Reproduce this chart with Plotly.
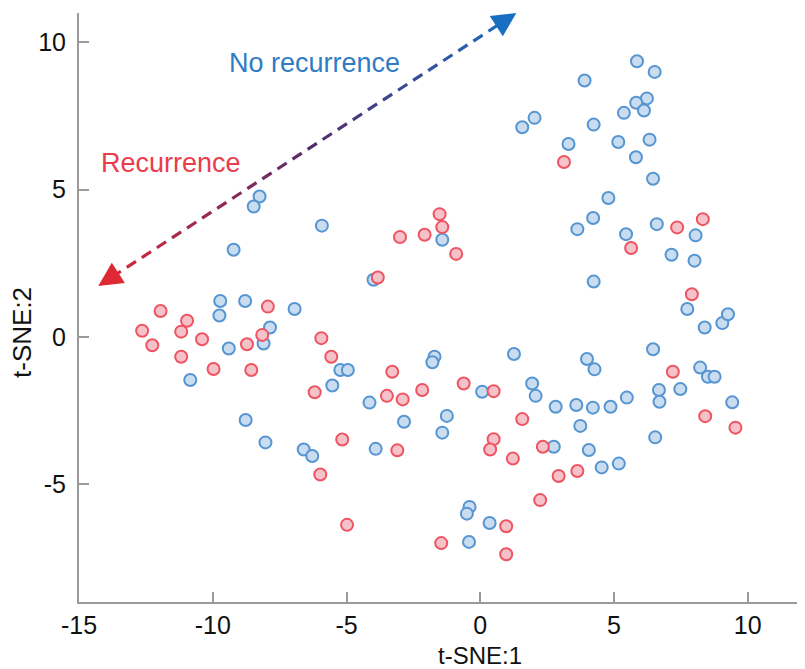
import plotly.graph_objects as go
import numpy as np

# ---- data ----
no_rec_x = [-8.25, -8.47, -5.92, -9.22, -3.99, -9.72, -8.79, -9.75, -6.94, -7.86, -8.10, -9.40,
            -10.84, -8.77, -8.03, -6.60, -6.28, -5.53, -5.23, -4.95, -4.14, -3.91, -2.85,
            5.86, 6.52, 3.90, 6.23, 5.83, 6.12, 5.37, 2.03, 1.57, 4.24, 3.30, 5.16, 6.33, 5.82,
            6.46, 4.79, 4.22, 3.63, 5.45, 6.60, 8.05, 7.15, 8.01, 4.24, -1.42, 7.74, 8.39, 9.05, 9.26,
            -1.71, -1.79, 1.26, 3.99, 4.27, 6.46, 8.22, 8.51, 8.76, 6.68, 6.70, 7.48, 9.42,
            0.07, 1.94, 2.07, 2.82, 3.59, 4.21, 4.87, 5.48, 3.74, -1.25, -1.42, 2.75, 4.06,
            4.54, 5.18, 6.54, -0.40, -0.50, 0.35, -0.42]
no_rec_y = [4.77, 4.43, 3.78, 2.96, 1.94, 1.22, 1.22, 0.73, 0.95, 0.32, -0.22, -0.39,
            -1.46, -2.82, -3.58, -3.82, -4.04, -1.65, -1.12, -1.12, -2.23, -3.80, -2.88,
            9.36, 9.00, 8.71, 8.10, 7.95, 7.69, 7.61, 7.44, 7.12, 7.21, 6.55, 6.62, 6.70, 6.10,
            5.37, 4.72, 4.04, 3.66, 3.49, 3.83, 3.45, 2.79, 2.59, 1.88, 3.30, 0.95, 0.32, 0.47, 0.77,
            -0.67, -0.86, -0.58, -0.75, -1.10, -0.42, -1.04, -1.35, -1.35, -1.80, -2.20, -1.77, -2.22,
            -1.86, -1.58, -2.00, -2.37, -2.31, -2.40, -2.37, -2.06, -3.02, -2.68, -3.25, -3.73, -3.84,
            -4.43, -4.30, -3.41, -5.77, -6.00, -6.32, -6.96]

rec_x = [-3.83, -3.00, -12.64, -12.26, -11.95, -11.18, -10.96, -11.18, -10.40, -9.97, -8.72,
         -8.56, -8.15, -7.94, -5.94, -5.57, -6.19, -5.98, -5.16, -4.98, -3.29, -3.49, -2.90, -3.10,
         3.13, -1.52, -1.42, -2.08, -0.90, 7.36, 8.32, 5.64, 7.91,
         -2.17, -0.62, 0.50, 1.57, 0.50, 0.37, 1.22, 2.34, 2.93, 3.63, 2.24, 7.20, 8.41, 9.54,
         0.97, -1.46, 0.97]
rec_y = [2.02, 3.39, 0.21, -0.28, 0.88, 0.18, 0.55, -0.67, -0.08, -1.09, -0.25,
         -1.12, 0.07, 1.03, -0.04, -0.67, -1.88, -4.67, -3.48, -6.38, -1.18, -2.00, -2.12, -3.85,
         5.94, 4.17, 3.73, 3.47, 2.82, 3.72, 4.00, 3.02, 1.45,
         -1.80, -1.58, -1.84, -2.79, -3.47, -3.82, -4.13, -3.73, -4.72, -4.55, -5.54, -1.18, -2.69, -3.08,
         -6.43, -7.00, -7.38]

x_ticks = [-15, -10, -5, 0, 5, 10]
x_tick_labels = ["-15", "-10", "-5", "0", "5", "10"]
y_ticks = [-5, 0, 5, 10]
y_tick_labels = ["-5", "0", "5", "10"]

arrow_start = (-14.28, 1.73)   # red tip (Recurrence)
arrow_end = (1.35, 11.0)       # blue tip (No recurrence)

# ---- layout constants (page body adds an 8px offset) ----
W, H = 797, 661
ML, MR, MT, MB = 71, 0, 5, 67
XR = [-15, 12.14]
YR = [-9, 11]
pw, ph = W - ML - MR, H - MT - MB
sx = pw / (XR[1] - XR[0])
sy = ph / (YR[1] - YR[0])

FONT = "Liberation Sans, Arial, sans-serif"
AX = "#9a9a9a"

fig = go.Figure()
fig.add_trace(go.Scatter(x=no_rec_x, y=no_rec_y, mode="markers", name="No recurrence",
                         marker=dict(size=12, color="#c9dcf0",
                                     line=dict(color="#5595d2", width=2))))
fig.add_trace(go.Scatter(x=rec_x, y=rec_y, mode="markers", name="Recurrence",
                         marker=dict(size=12, color="#f6c2c9",
                                     line=dict(color="#ee5461", width=2))))

# ---- gradient dashed arrow ----
def interp(c1, c2, t):
    return tuple(int(round(a + (b - a) * t)) for a, b in zip(c1, c2))

red_c, mid_c, blue_c = (222, 40, 52), (88, 42, 108), (24, 110, 192)
def col(t):
    if t < 0.5:
        return "rgb(%d,%d,%d)" % interp(red_c, mid_c, t / 0.5)
    return "rgb(%d,%d,%d)" % interp(mid_c, blue_c, (t - 0.5) / 0.5)

ax0, ay0 = arrow_start
ax1, ay1 = arrow_end
dxp, dyp = (ax1 - ax0) * sx, (ay1 - ay0) * sy
L = np.hypot(dxp, dyp)
ux, uy = dxp / L, dyp / L
head = 16
dash, gap = 11, 7
s = head
while s < L - head:
    e = min(s + dash, L - head + 4)
    t = (s + e) / 2 / L
    fig.add_shape(type="line", xref="x", yref="y",
                  x0=ax0 + ux * s / sx, y0=ay0 + uy * s / sy,
                  x1=ax0 + ux * e / sx, y1=ay0 + uy * e / sy,
                  line=dict(color=col(t), width=3.2))
    s += dash + gap

for (tx, ty), back, c in [((ax0, ay0), 1, col(0.0)), ((ax1, ay1), -1, col(1.0))]:
    fig.add_annotation(x=tx, y=ty, ax=tx + back * ux * 20 / sx, ay=ty + back * uy * 20 / sy,
                       xref="x", yref="y", axref="x", ayref="y", text="",
                       showarrow=True, arrowhead=2, arrowsize=1.6, arrowwidth=3,
                       arrowcolor=c, standoff=0)

fig.add_annotation(x=-6.2, y=9.29, xref="x", yref="y", text="No recurrence", showarrow=False,
                   font=dict(family=FONT, size=27, color="#2f7cc4"))
fig.add_annotation(x=-11.55, y=5.92, xref="x", yref="y", text="Recurrence", showarrow=False,
                   font=dict(family=FONT, size=27, color="#ea3d4c"))

# axis titles
fig.add_annotation(x=0, y=0, xref="x", yref="paper", yanchor="middle", xanchor="center",
                   yshift=-53, text="t-SNE:1",
                   showarrow=False, font=dict(family=FONT, size=24, color="#111"))
fig.add_annotation(x=0, y=0, xref="paper", yref="y", xanchor="center", yanchor="middle",
                   xshift=-57, yshift=4, text="t-SNE:2", textangle=-90,
                   showarrow=False, font=dict(family=FONT, size=26, color="#111"))

fig.update_layout(
    width=W, height=H, margin=dict(l=ML, r=MR, t=MT, b=MB, autoexpand=False),
    paper_bgcolor="white", plot_bgcolor="white", showlegend=False,
    font=dict(family=FONT, size=25, color="#111"),
    xaxis=dict(range=XR, tickvals=x_ticks, ticktext=x_tick_labels, ticks="inside", ticklen=10,
               tickwidth=2, tickcolor=AX, showline=True, linecolor=AX, linewidth=2,
               showgrid=False, zeroline=False, tickfont=dict(size=25), automargin=False,
               ticklabelstandoff=0),
    yaxis=dict(range=YR, tickvals=y_ticks, ticktext=y_tick_labels, ticks="inside", ticklen=10,
               tickwidth=2, tickcolor=AX, showline=True, linecolor=AX, linewidth=2,
               showgrid=False, zeroline=False, tickfont=dict(size=25), automargin=False,
               ticklabelstandoff=6),
)

fig.write_html("out.html")
